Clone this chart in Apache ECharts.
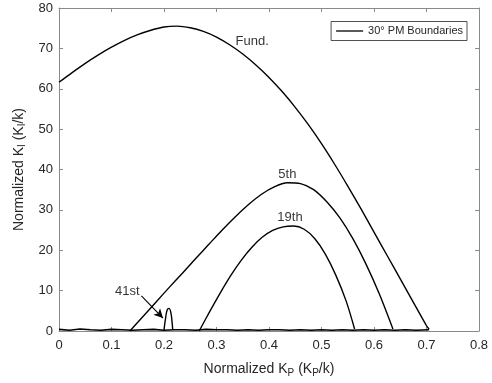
<!DOCTYPE html>
<html><head><meta charset="utf-8">
<script src="https://cdn.jsdelivr.net/npm/echarts@6/dist/echarts.min.js"></script>
<style>html,body{margin:0;padding:0;background:#fff}#c{width:492px;height:383px}</style>
</head><body><div id="c"></div>
<script>
const xTicks = [0, 0.1, 0.2, 0.3, 0.4, 0.5, 0.6, 0.7, 0.8];
const yTicks = [0, 10, 20, 30, 40, 50, 60, 70, 80];

const fundX = [0, 0.025, 0.05, 0.075, 0.1, 0.125, 0.15, 0.175, 0.2, 0.225, 0.25, 0.275, 0.3, 0.325, 0.35, 0.375, 0.4, 0.425, 0.45, 0.475, 0.5, 0.525, 0.55, 0.575, 0.6, 0.625, 0.65, 0.675, 0.7, 0.705];
const fundY = [61.6, 64.0, 66.3, 68.4, 70.3, 72.0, 73.4, 74.5, 75.3, 75.5, 75.1, 74.2, 72.8, 70.9, 68.6, 65.9, 62.8, 59.3, 55.4, 51.1, 46.4, 41.3, 35.9, 30.3, 24.5, 18.7, 12.9, 7.1, 1.3, 0.5];

const h5X = [0.135, 0.16, 0.185, 0.21, 0.235, 0.26, 0.285, 0.31, 0.335, 0.36, 0.385, 0.41, 0.435, 0.46, 0.485, 0.51, 0.535, 0.56, 0.585, 0.61, 0.636];
const h5Y = [0, 3.6, 7.2, 10.8, 14.3, 17.9, 21.4, 24.9, 28.2, 31.2, 33.8, 35.7, 36.7, 36.5, 35.0, 32.0, 28.0, 22.8, 16.5, 9.2, 0.5];

const h19X = [0.267, 0.287, 0.307, 0.327, 0.347, 0.367, 0.387, 0.407, 0.427, 0.447, 0.467, 0.487, 0.507, 0.527, 0.547, 0.563];
const h19Y = [0, 4.8, 9.4, 13.7, 17.5, 20.7, 23.2, 24.9, 25.8, 26.0, 25.2, 22.9, 19.1, 13.9, 7.4, 0.5];

const h41X = [0.2, 0.203, 0.206, 0.2095, 0.213, 0.2155, 0.2166];
const h41Y = [0.3, 3.2, 5.2, 5.6, 4.6, 2.0, 0.3];

const baseX = [0, 0.02, 0.04, 0.06, 0.08, 0.1, 0.12, 0.14, 0.16, 0.18, 0.2, 0.22, 0.24, 0.26, 0.28, 0.3, 0.32, 0.34, 0.36, 0.38, 0.4, 0.42, 0.44, 0.46, 0.48, 0.5, 0.52, 0.54, 0.56, 0.58, 0.6, 0.62, 0.64, 0.66, 0.68, 0.705];
const baseY = [0.4, 0.2, 0.5, 0.3, 0.2, 0.4, 0.3, 0.2, 0.3, 0.4, 0.2, 0.3, 0.3, 0.2, 0.4, 0.3, 0.3, 0.2, 0.3, 0.2, 0.3, 0.3, 0.2, 0.3, 0.2, 0.3, 0.2, 0.3, 0.2, 0.3, 0.2, 0.3, 0.2, 0.3, 0.2, 0.3];

const labelTexts = ['Fund.', '5th', '19th', '41st'];
const labelX = [0.368, 0.435, 0.44, 0.13];
const labelY = [71.8, 38.8, 28.1, 9.8];
const arrowFrom = [0.157, 8.7];
const arrowTo = [0.198, 3.2];

const legendName = '30° PM Boundaries';
const FONT = 'Liberation Sans, Arial, Helvetica, sans-serif';
const TXT = '#262626';
const AX = '#8a8a8a';

function pairs(xs, ys) { return xs.map((x, i) => [x, ys[i]]); }

const lineBase = {
  type: 'line', showSymbol: false, symbol: 'none', smooth: 0.3, animation: false,
  lineStyle: { color: '#000', width: 1.4 }, itemStyle: { color: '#000' }, z: 3
};

const chart = echarts.init(document.getElementById('c'), null, { renderer: 'canvas' });

const axisCommon = {
  type: 'value',
  axisLine: { show: true, onZero: false, lineStyle: { color: AX, width: 1 } },
  axisTick: { show: true, inside: true, length: 4, lineStyle: { color: AX } },
  splitLine: { show: false }
};

const nameRich = {
  a: { fontSize: 14, fontFamily: FONT, color: TXT },
  s: { fontSize: 10, fontFamily: FONT, color: TXT, padding: [7, 0, 0, 0] }
};

chart.setOption({
  backgroundColor: '#fff',
  animation: false,
  textStyle: { fontFamily: FONT },
  grid: { left: 59, right: 13, top: 8, bottom: 45, containLabel: false },
  legend: {
    data: [legendName], right: 25, top: 21.5, orient: 'horizontal',
    icon: 'rect', itemWidth: 27, itemHeight: 1.3, itemGap: 4,
    padding: [4, 4, 4, 5], borderColor: '#262626', borderWidth: 0.8,
    backgroundColor: '#fff',
    textStyle: { fontSize: 11, color: TXT, fontFamily: FONT, padding: [0, 0, 0, 0] }
  },
  xAxis: [
    Object.assign({}, axisCommon, {
      min: 0, max: 0.8, interval: 0.1, position: 'bottom',
      axisLabel: { show: true, fontSize: 13, color: TXT, fontFamily: FONT, margin: 8,
        formatter: v => { const t = xTicks.find(k => Math.abs(k - v) < 1e-9); return t === undefined ? '' : String(t); } },
      name: '{a|Normalized K}{s|P}{a| (K}{s|P}{a|/k)}', nameLocation: 'middle', nameGap: 30,
      nameTextStyle: { rich: nameRich }
    }),
    Object.assign({}, axisCommon, {
      min: 0, max: 0.8, interval: 0.1, position: 'top', axisLabel: { show: false }
    })
  ],
  yAxis: [
    Object.assign({}, axisCommon, {
      min: 0, max: 80, interval: 10, position: 'left',
      axisLabel: { show: true, fontSize: 13, color: TXT, fontFamily: FONT, margin: 6,
        formatter: v => { const t = yTicks.find(k => Math.abs(k - v) < 1e-9); return t === undefined ? '' : String(t); } },
      name: '{a|Normalized K}{s|I}{a| (K}{s|I}{a|/k)}', nameLocation: 'middle', nameGap: 30, nameRotate: 90,
      nameTextStyle: { rich: nameRich }
    }),
    Object.assign({}, axisCommon, {
      min: 0, max: 80, interval: 10, position: 'right', axisLabel: { show: false }
    })
  ],
  series: [
    Object.assign({}, lineBase, { name: legendName, data: pairs(fundX, fundY) }),
    Object.assign({}, lineBase, { name: '5th', data: pairs(h5X, h5Y) }),
    Object.assign({}, lineBase, { name: '19th', data: pairs(h19X, h19Y) }),
    Object.assign({}, lineBase, { name: '41st', smooth: 0.4, data: pairs(h41X, h41Y) }),
    Object.assign({}, lineBase, { name: 'base', smooth: false, lineStyle: { color: '#000', width: 1.6 }, data: pairs(baseX, baseY),
      markLine: {
        silent: true, symbol: ['none', 'arrow'], symbolSize: [7, 9], animation: false,
        lineStyle: { color: '#000', width: 1.1, type: 'solid' }, label: { show: false },
        emphasis: { disabled: true },
        data: [[{ coord: arrowFrom }, { coord: arrowTo }]]
      }
    }),
    {
      type: 'scatter', name: 'labels', symbolSize: 0, silent: true, animation: false, z: 5,
      data: labelTexts.map((t, i) => ({ value: [labelX[i], labelY[i]], name: t })),
      label: { show: true, position: 'inside', formatter: p => p.name, fontSize: 13, color: '#000', fontFamily: FONT }
    }
  ]
});
</script></body></html>
